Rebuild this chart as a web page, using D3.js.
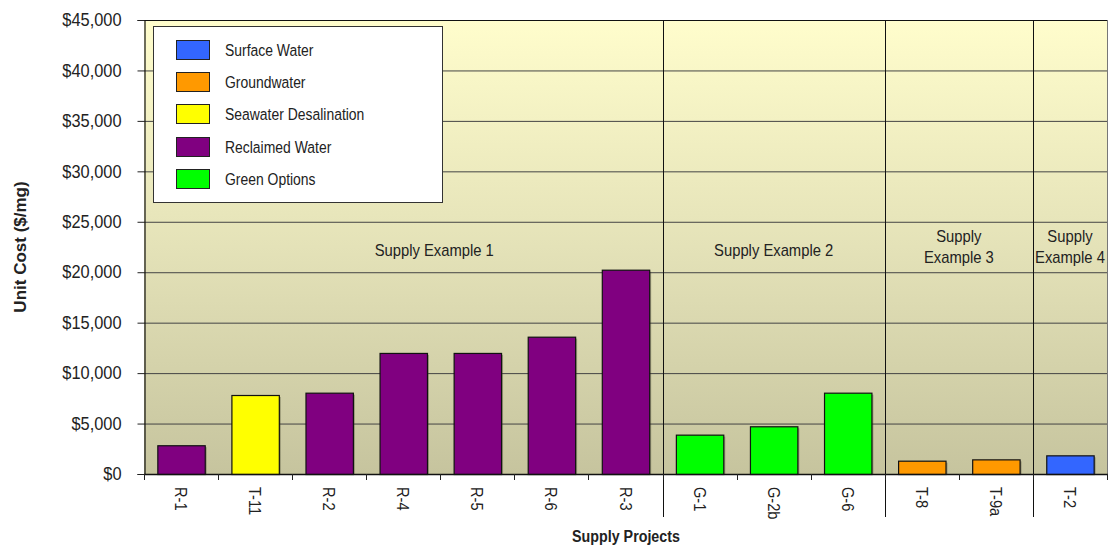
<!DOCTYPE html>
<html>
<head>
<meta charset="utf-8">
<script src="https://cdn.jsdelivr.net/npm/d3@7"></script>
<style>
  html, body { margin: 0; padding: 0; background: #ffffff; }
  svg { display: block; }
  text { font-family: 'Liberation Sans', Arial, sans-serif; fill: #222; }
</style>
</head>
<body>
<svg id="chart" width="1111" height="546"></svg>
<script>
// Supply projects, in display order
const categories = ["R-1", "T-11", "R-2", "R-4", "R-5", "R-6", "R-3", "G-1", "G-2b", "G-6", "T-8", "T-9a", "T-2"];
// Unit cost ($/mg) for each project
const unitCost = [2850, 7830, 8060, 12000, 12000, 13610, 20250, 3900, 4730, 8060, 1320, 1450, 1850];
// Supply source type for each project
const sourceType = ["Reclaimed Water", "Seawater Desalination", "Reclaimed Water", "Reclaimed Water", "Reclaimed Water",
  "Reclaimed Water", "Reclaimed Water", "Green Options", "Green Options", "Green Options",
  "Groundwater", "Groundwater", "Surface Water"];
// Legend entries and their fills
const sourceTypes = ["Surface Water", "Groundwater", "Seawater Desalination", "Reclaimed Water", "Green Options"];
const sourceColors = ["#3366ff", "#ff9900", "#ffff00", "#800080", "#00ff00"];
// Project groups: label lines, first and last project
const groupLabels = [["Supply Example 1"], ["Supply Example 2"], ["Supply", "Example 3"], ["Supply", "Example 4"]];
const groupFirst = ["R-1", "G-1", "T-8", "T-2"];
const groupLast = ["R-3", "G-6", "T-9a", "T-2"];
// Y axis ticks
const yTicks = [0, 5000, 10000, 15000, 20000, 25000, 30000, 35000, 40000, 45000];

const svg = d3.select("#chart");
const plot = { left: 144, right: 1107, top: 20, bottom: 474 };

const x = d3.scaleBand().domain(categories).range([plot.left, plot.right]).paddingInner(0.36).paddingOuter(0.18);
const y = d3.scaleLinear().domain([0, 45000]).range([plot.bottom, plot.top]);
const color = d3.scaleOrdinal().domain(sourceTypes).range(sourceColors);
const fmt = v => "$" + d3.format(",")(v);

// Condensed lettering: move the anchor into a transform and squeeze horizontally
function narrow(sel, s) {
  sel.each(function () {
    const t = d3.select(this);
    const tx = +t.attr("x") || 0;
    const ty = +t.attr("y") || 0;
    const tr = t.attr("transform") || "";
    t.attr("x", null).attr("y", null)
      .attr("transform", `${tr} translate(${tx},${ty}) scale(${s},1)`);
    t.selectAll("tspan").attr("x", 0);
  });
}

// Plot background gradient
const defs = svg.append("defs");
const grad = defs.append("linearGradient").attr("id", "bg").attr("x1", 0).attr("y1", 0).attr("x2", 0).attr("y2", 1);
grad.append("stop").attr("offset", "0%").attr("stop-color", "#fffdcc");
grad.append("stop").attr("offset", "50%").attr("stop-color", "#e4e2b8");
grad.append("stop").attr("offset", "100%").attr("stop-color", "#c6c49e");

svg.append("rect")
  .attr("x", plot.left).attr("y", plot.top)
  .attr("width", plot.right - plot.left).attr("height", plot.bottom - plot.top)
  .attr("fill", "url(#bg)");

// Horizontal gridlines
svg.append("g").selectAll("line").data(yTicks.filter(d => d > 0)).join("line")
  .attr("x1", plot.left).attr("x2", plot.right)
  .attr("y1", d => y(d) + 0.5).attr("y2", d => y(d) + 0.5)
  .attr("stroke", d => d === 45000 ? "#111" : "#444")
  .attr("stroke-width", 1);

// Right frame
svg.append("line")
  .attr("x1", plot.right + 0.5).attr("x2", plot.right + 0.5)
  .attr("y1", plot.top).attr("y2", plot.bottom)
  .attr("stroke", "#777");

// Group separators between project groups
const step = x.step();
const boundaryX = name => x(name) - x.paddingInner() * step / 2;
groupFirst.slice(1).forEach(name => {
  const bx = Math.round(boundaryX(name)) + 0.5;
  svg.append("line")
    .attr("x1", bx).attr("x2", bx)
    .attr("y1", plot.top).attr("y2", 517)
    .attr("stroke", "#111").attr("stroke-width", 1);
});

// Group labels
const groupOffset = [31, 0, 0, 0];
const groupText = svg.append("g");
groupLabels.forEach((lines, i) => {
  const x0 = boundaryX(groupFirst[i]);
  const x1 = boundaryX(groupLast[i]) + step;
  const cx = (x0 + x1) / 2 + groupOffset[i];
  const t = groupText.append("text")
    .attr("x", cx)
    .attr("y", lines.length === 1 ? 256 : 242)
    .attr("text-anchor", "middle")
    .style("font-size", "17px");
  lines.forEach((ln, j) => {
    t.append("tspan").attr("x", cx).attr("dy", j === 0 ? 0 : 21).text(ln);
  });
});
narrow(groupText.selectAll("text"), 0.87);

// Bars with a soft drop shadow
const bars = categories.map((c, i) => ({ name: c, value: unitCost[i], type: sourceType[i] }));
svg.append("g").selectAll("rect").data(bars).join("rect")
  .attr("x", d => x(d.name) + 2)
  .attr("y", d => y(d.value) + 2)
  .attr("width", x.bandwidth())
  .attr("height", d => y(0) - y(d.value) - 2)
  .attr("fill", "rgba(60,60,40,0.35)");
svg.append("g").selectAll("rect").data(bars).join("rect")
  .attr("x", d => x(d.name) + 0.5)
  .attr("y", d => y(d.value) + 0.5)
  .attr("width", x.bandwidth())
  .attr("height", d => y(0) - y(d.value))
  .attr("fill", d => color(d.type))
  .attr("stroke", "#111").attr("stroke-width", 1.2);

// Y axis
const yAxis = svg.append("g")
  .attr("transform", `translate(${plot.left + 0.5},0)`)
  .call(d3.axisLeft(y).tickValues(yTicks).tickFormat(fmt).tickSize(7).tickPadding(16));
yAxis.select(".domain").attr("stroke", "#111").attr("stroke-width", 1.2);
yAxis.selectAll(".tick line").attr("stroke", "#222");
yAxis.selectAll(".tick text").style("font-size", "18px").attr("fill", "#222")
  .style("font-family", "'Liberation Sans', Arial, sans-serif");
narrow(yAxis.selectAll(".tick text"), 0.91);

// X axis baseline with ticks at category boundaries
svg.append("line")
  .attr("x1", plot.left).attr("x2", plot.right + 1)
  .attr("y1", plot.bottom + 0.5).attr("y2", plot.bottom + 0.5)
  .attr("stroke", "#111").attr("stroke-width", 1.5);
const bounds = categories.map(c => boundaryX(c)).concat([plot.right]);
svg.append("g").selectAll("line").data(bounds).join("line")
  .attr("x1", d => Math.round(d) + 0.5).attr("x2", d => Math.round(d) + 0.5)
  .attr("y1", plot.bottom).attr("y2", plot.bottom + 6)
  .attr("stroke", "#222");

// Rotated category labels
const catLabels = svg.append("g").selectAll("text").data(categories).join("text")
  .attr("transform", d => `translate(${x(d) + x.bandwidth() / 2 - 6},${plot.bottom + 13}) rotate(90)`)
  .attr("text-anchor", "start")
  .style("font-size", "17px")
  .text(d => d);
narrow(catLabels, 0.86);

// Axis titles
const xTitle = svg.append("text")
  .attr("x", 626).attr("y", 542)
  .attr("text-anchor", "middle")
  .style("font-size", "17px").style("font-weight", "bold")
  .text("Supply Projects");
narrow(xTitle, 0.84);
svg.append("text")
  .attr("transform", "translate(26,247) rotate(-90)")
  .attr("text-anchor", "middle")
  .style("font-size", "17px").style("font-weight", "bold")
  .text("Unit Cost ($/mg)");

// Legend
const legend = svg.append("g");
legend.append("rect")
  .attr("x", 153.5).attr("y", 26.5).attr("width", 289).attr("height", 176)
  .attr("fill", "#ffffff").attr("stroke", "#333").attr("stroke-width", 1);
sourceTypes.forEach((name, i) => {
  const ry = 40 + i * 32.2;
  legend.append("rect")
    .attr("x", 176.5).attr("y", Math.round(ry) + 0.5).attr("width", 33).attr("height", 19)
    .attr("fill", color(name)).attr("stroke", "#222").attr("stroke-width", 1);
  legend.append("text")
    .attr("class", "legend-label")
    .attr("x", 225).attr("y", ry + 16)
    .style("font-size", "17px")
    .text(name);
});
narrow(legend.selectAll(".legend-label"), 0.82);
</script>
</body>
</html>
